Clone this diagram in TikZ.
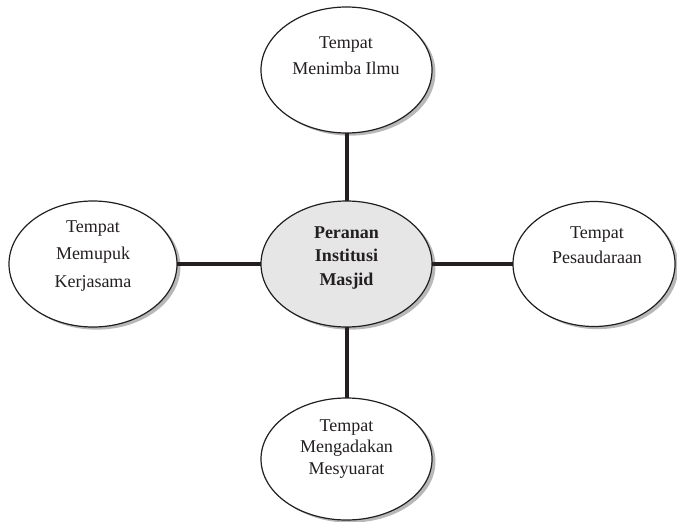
\documentclass[tikz,border=0pt]{standalone}
\usepackage{fontspec}
\setmainfont{Liberation Serif}
\usetikzlibrary{shapes.geometric,shadows}
\definecolor{inkc}{HTML}{231F20}
\definecolor{midfill}{HTML}{E6E6E7}
\tikzset{
  bubble/.style={ellipse, draw=inkc, line width=0.9pt, fill=white, inner sep=0pt, outer sep=0pt,
    drop shadow={shadow xshift=2.6pt, shadow yshift=-2pt, fill=black!28, opacity=1}},
  txt/.style={align=center, text=inkc, inner sep=0pt, font=\fontsize{13.5}{19.5}\selectfont},
  link/.style={draw=inkc, line width=3pt}
}
\begin{document}
\begin{tikzpicture}[x=0.75pt,y=-0.75pt]
\useasboundingbox (0,0) rectangle (677,521);
\node[bubble, minimum width=128.25pt, minimum height=94.5pt] (top) at (346.5,70) {};
\node[bubble, fill=midfill, minimum width=128.25pt, minimum height=94.5pt] (mid) at (346.5,264) {};
\node[bubble, minimum width=126pt, minimum height=94.5pt] (left) at (93,264) {};
\node[bubble, minimum width=121.5pt, minimum height=93.75pt] (right) at (594,264) {};
\node[bubble, minimum width=128.25pt, minimum height=91.5pt] (bottom) at (346.5,459) {};
\draw[link] (top) -- (mid);
\draw[link] (left) -- (mid);
\draw[link] (mid) -- (right);
\draw[link] (mid) -- (bottom);
\node[txt] (ttop) at (346,56) {Tempat\\Menimba Ilmu};
\node[txt, font=\fontsize{13.5}{20.5}\selectfont] (tleft) at (93,256) {Tempat\\Memupuk\\Kerjasama};
\node[txt, font=\bfseries\fontsize{13.5}{17.6}\selectfont] (tmid) at (346.5,258) {Peranan\\Institusi\\Masjid};
\node[txt, font=\fontsize{13.5}{18.75}\selectfont] (tright) at (597,245) {Tempat\\Pesaudaraan};
\node[txt, font=\fontsize{13.5}{16.2}\selectfont] (tbottom) at (346.5,449) {Tempat\\Mengadakan\\Mesyuarat};
\end{tikzpicture}
\end{document}
